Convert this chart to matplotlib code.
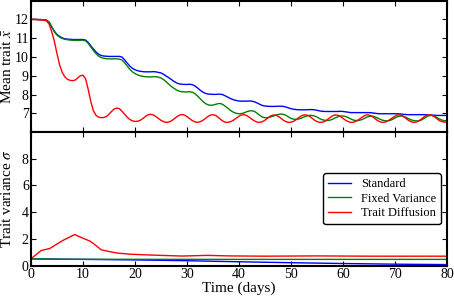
import matplotlib
matplotlib.use("Agg")
import matplotlib.pyplot as plt
import numpy as np

plt.rcParams["font.family"] = ["Liberation Serif", "DejaVu Serif"]
plt.rcParams["mathtext.fontset"] = "stix"

# time grid for mean trait (0.5 day steps)
t_mean = np.arange(0, 80.5, 0.5)

mean_standard = [
    12.0, 12.0, 12.0, 11.99, 11.99, 11.98, 11.96, 11.85, 11.6, 11.37,
    11.2, 11.1, 11.02, 10.97, 10.95, 10.94, 10.93, 10.93, 10.93, 10.93,
    10.93, 10.9, 10.78, 10.6, 10.43, 10.27, 10.15, 10.08, 10.05, 10.04,
    10.03, 10.03, 10.03, 10.03, 10.03, 10.0, 9.85, 9.68, 9.52, 9.4,
    9.32, 9.27, 9.24, 9.22, 9.21, 9.21, 9.21, 9.22, 9.21, 9.18,
    9.15, 9.08, 8.98, 8.9, 8.8, 8.7, 8.62, 8.57, 8.55, 8.54,
    8.54, 8.55, 8.53, 8.46, 8.36, 8.24, 8.14, 8.07, 8.03, 8.02,
    8.01, 8.01, 8.02, 8.02, 7.98, 7.91, 7.84, 7.77, 7.72, 7.68,
    7.66, 7.65, 7.65, 7.65, 7.66, 7.65, 7.61, 7.55, 7.48, 7.42,
    7.39, 7.38, 7.37, 7.37, 7.37, 7.38, 7.38, 7.37, 7.34, 7.29,
    7.25, 7.22, 7.20, 7.19, 7.19, 7.19, 7.19, 7.20, 7.20, 7.19,
    7.16, 7.13, 7.11, 7.10, 7.10, 7.10, 7.10, 7.10, 7.10, 7.11,
    7.10, 7.08, 7.06, 7.04, 7.04, 7.04, 7.04, 7.04, 7.04, 7.04,
    7.04, 7.03, 7.01, 6.99, 6.98, 6.98, 6.98, 6.98, 6.98, 6.98,
    6.98, 6.98, 6.97, 6.95, 6.94, 6.93, 6.93, 6.93, 6.93, 6.93,
    6.93, 6.93, 6.93, 6.92, 6.91, 6.90, 6.89, 6.89, 6.89, 6.89,
    6.89,
]

mean_fixed = [
    12.0, 12.0, 12.0, 11.99, 11.99, 11.98, 11.96, 11.86, 11.6, 11.35,
    11.17, 11.06, 10.99, 10.94, 10.92, 10.9, 10.89, 10.89, 10.89, 10.89,
    10.89, 10.86, 10.73, 10.54, 10.35, 10.18, 10.05, 9.97, 9.93, 9.91,
    9.9, 9.9, 9.9, 9.9, 9.89, 9.84, 9.7, 9.52, 9.35, 9.21,
    9.12, 9.05, 9.0, 8.97, 8.95, 8.94, 8.94, 8.95, 8.95, 8.93,
    8.88, 8.8, 8.68, 8.55, 8.43, 8.33, 8.24, 8.18, 8.15, 8.14,
    8.14, 8.15, 8.13, 8.05, 7.93, 7.79, 7.65, 7.53, 7.46, 7.43,
    7.44, 7.48, 7.52, 7.52, 7.45, 7.35, 7.24, 7.13, 7.05, 7.0,
    6.98, 6.99, 7.03, 7.09, 7.13, 7.14, 7.1, 7.0, 6.89, 6.8,
    6.77, 6.77, 6.8, 6.85, 6.9, 6.94, 6.96, 6.95, 6.9, 6.81,
    6.73, 6.69, 6.68, 6.7, 6.75, 6.81, 6.86, 6.89, 6.89, 6.86,
    6.8, 6.72, 6.66, 6.63, 6.62, 6.64, 6.69, 6.76, 6.82, 6.86,
    6.86, 6.83, 6.77, 6.7, 6.64, 6.62, 6.62, 6.66, 6.72, 6.79,
    6.84, 6.85, 6.83, 6.77, 6.7, 6.64, 6.61, 6.6, 6.62, 6.68,
    6.76, 6.83, 6.86, 6.85, 6.8, 6.73, 6.66, 6.62, 6.6, 6.6,
    6.64, 6.72, 6.81, 6.88, 6.89, 6.85, 6.78, 6.7, 6.64, 6.61,
    6.6,
]

mean_diffusion = [
    12.0, 12.0, 11.99, 11.98, 11.97, 11.95, 11.92, 11.75, 11.35, 10.85,
    10.2, 9.6, 9.2, 8.95, 8.82, 8.76, 8.74, 8.77, 8.88, 9.0,
    9.03, 8.85, 8.3, 7.65, 7.15, 6.9, 6.8, 6.77, 6.78, 6.83,
    6.95, 7.1, 7.23, 7.28, 7.25, 7.12, 6.95, 6.8, 6.68, 6.6,
    6.57, 6.58, 6.63, 6.72, 6.83, 6.92, 6.95, 6.92, 6.84, 6.73,
    6.63, 6.56, 6.52, 6.54, 6.60, 6.70, 6.81, 6.90, 6.94, 6.91,
    6.83, 6.72, 6.62, 6.55, 6.52, 6.55, 6.62, 6.72, 6.83, 6.91,
    6.93, 6.89, 6.79, 6.67, 6.57, 6.52, 6.53, 6.57, 6.65, 6.75,
    6.85, 6.92, 6.93, 6.88, 6.79, 6.68, 6.59, 6.53, 6.52, 6.56,
    6.64, 6.75, 6.85, 6.91, 6.91, 6.85, 6.75, 6.64, 6.56, 6.52,
    6.53, 6.58, 6.67, 6.78, 6.87, 6.92, 6.91, 6.85, 6.75, 6.64,
    6.56, 6.52, 6.53, 6.58, 6.67, 6.78, 6.87, 6.92, 6.90, 6.83,
    6.73, 6.63, 6.56, 6.52, 6.53, 6.58, 6.67, 6.77, 6.86, 6.92,
    6.91, 6.85, 6.75, 6.64, 6.56, 6.52, 6.53, 6.58, 6.67, 6.77,
    6.86, 6.92, 6.91, 6.85, 6.75, 6.64, 6.56, 6.52, 6.53, 6.59,
    6.69, 6.80, 6.89, 6.93, 6.90, 6.83, 6.72, 6.62, 6.56, 6.53,
    6.54,
]

# trait variance
t_var_std = [0, 10, 20, 30, 40, 50, 60, 70, 80]
var_standard = [0.5, 0.46, 0.42, 0.36, 0.28, 0.21, 0.15, 0.1, 0.07]
t_var_fix = [0, 5, 40, 80]
var_fixed = [0.5, 0.47, 0.46, 0.46]
t_var_dif = [0, 2, 3.6, 6, 8.4, 10, 11.3, 12.2, 13.5, 15, 16.7, 19, 22,
             25, 29, 34, 38, 45, 55, 65, 80]
var_diffusion = [0.5, 1.13, 1.27, 1.85, 2.32, 2.05, 1.84, 1.6, 1.18, 1.05,
                 0.93, 0.85, 0.8, 0.76, 0.71, 0.76, 0.72, 0.7, 0.72, 0.7, 0.7]

labels = ["Standard", "Fixed Variance", "Trait Diffusion"]
colors = ["#0000ff", "#008000", "#ff0000"]

fig = plt.figure(figsize=(4.54, 2.99), dpi=100)
ax1 = fig.add_axes([0.068, 0.558, 0.917, 0.44])
ax2 = fig.add_axes([0.068, 0.112, 0.917, 0.446])

for y, c in zip([mean_standard, mean_fixed, mean_diffusion], colors):
    ax1.plot(t_mean, y, color=c, lw=1.0)

for t, y, c, lab in zip([t_var_std, t_var_fix, t_var_dif],
                        [var_standard, var_fixed, var_diffusion], colors, labels):
    ax2.plot(t, y, color=c, lw=1.0, label=lab)

ax1.set_xlim(0, 80)
ax1.set_ylim(6, 13)
ax1.set_yticks(range(7, 13))
ax1.set_xticks(range(0, 81, 10))
ax1.tick_params(labelbottom=False)
ax1.set_ylabel(r"Mean trait $\bar{x}$", fontsize=11)

ax2.set_xlim(0, 80)
ax2.set_ylim(0, 10)
ax2.set_yticks([0, 2, 4, 6, 8])
ax2.set_xticks(range(0, 81, 10))
ax2.set_ylabel(r"Trait variance $\sigma$", fontsize=11)
ax2.set_xlabel("Time (days)", fontsize=11, labelpad=1)

for ax in (ax1, ax2):
    ax.tick_params(direction="in", top=True, right=True, length=3.5,
                   width=0.8, labelsize=10, pad=1.5)
    for sp in ax.spines.values():
        sp.set_linewidth(1.5)
    ax.yaxis.set_label_coords(-0.04, 0.5)

leg = ax2.legend(loc="center right", fontsize=9, handlelength=1.8,
                 labelspacing=0.2, borderaxespad=0.5, fancybox=True,
                 framealpha=1.0)
leg.get_frame().set_edgecolor("black")
leg.get_frame().set_linewidth(1.0)

fig.savefig("out.png", dpi=100)
